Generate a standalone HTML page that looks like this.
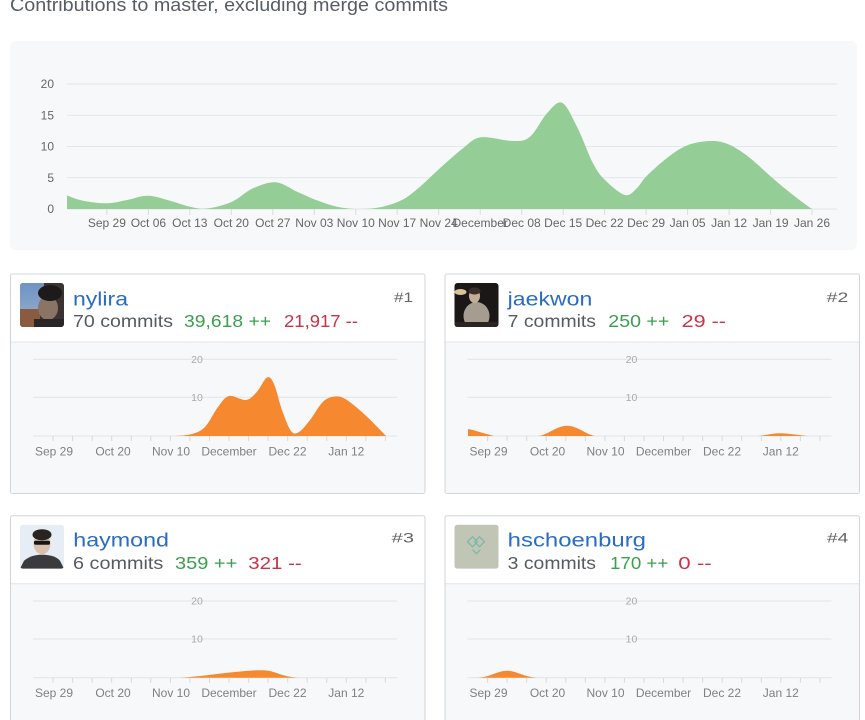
<!DOCTYPE html>
<html>
<head>
<meta charset="utf-8">
<style>
  html, body { margin: 0; padding: 0; background: #ffffff; }
  svg { display: block; }
</style>
</head>
<body>
<svg width="865" height="720" viewBox="0 0 865 720" xmlns="http://www.w3.org/2000/svg" font-family="'Liberation Sans', Arial, sans-serif">
  <defs>
    <linearGradient id="sky" x1="0" y1="0" x2="0" y2="1">
      <stop offset="0" stop-color="#6f93c6"/>
      <stop offset="1" stop-color="#8aa6c8"/>
    </linearGradient>
    <clipPath id="avclip"><rect x="20" y="283" width="44" height="44" rx="3"/></clipPath>
  </defs>

  <!-- Title -->
  <text x="10" y="11" font-size="18" fill="#575d64" textLength="438" lengthAdjust="spacingAndGlyphs">Contributions to master, excluding merge commits</text>

  <!-- Main chart box -->
  <rect x="10" y="41" width="847" height="209" rx="6" fill="#f6f8fa"/>

  <!-- gridlines -->
  <g stroke="#e3e6ea" stroke-width="1">
    <line x1="67" y1="84" x2="837" y2="84"/>
    <line x1="67" y1="115.25" x2="837" y2="115.25"/>
    <line x1="67" y1="146.5" x2="837" y2="146.5"/>
    <line x1="67" y1="177.75" x2="837" y2="177.75"/>
    <line x1="67" y1="209" x2="837" y2="209"/>
  </g>
  <g font-size="12" fill="#666" text-anchor="end">
    <text x="54" y="88">20</text>
    <text x="54" y="119.5">15</text>
    <text x="54" y="150.5">10</text>
    <text x="54" y="182">5</text>
    <text x="54" y="213">0</text>
  </g>

  <!-- main area -->
  <path fill="#94cd95" d="M67,209 L67,195.5 C69.7,196.4 76.3,199.4 83,200.7 S99.7,203.4 107,203.3 S120.2,201.3 127,200 S140.8,195.6 148,195.7 S163,198.9 170,200.7 S183.8,205.4 190,206.7 S200,209.3 207,208.5 S224.3,205.1 232,201.7 S245.7,191.5 253,188.3 S268.7,181.7 276,182.3 S290.3,188.8 297,191.7 S309.3,197.5 316,200 S330,205.2 337,206.7 S350.8,208.9 358,209 S372.7,208.8 380,207.3 S395.3,203.4 402,200 S414,191.7 420,186.7 S430.8,176.4 438,170 S455.8,153.8 463,148.3 S472.7,138.5 481,137.3 S504.8,141.1 513,141 S524.3,141.3 530,136.7 S541.7,119 547,113.3 S557,100.6 562,102.8 S571.8,116.6 577,126.7 S588.3,154.4 593,163.3 S599.7,174.7 605,180 S619.7,193.7 625,195 S633.5,191.1 637,188 S641,181.7 646,176.7 S660,163.3 667,158 S680.5,147.8 688,145 S705,141 712,141 S723.7,142.2 730,145 S743.2,152.7 750,158 S763.8,170.5 771,176.7 S786.2,189.6 793,195 S808.8,206.7 812,209 Z"/>

  <!-- main ticks -->
  <g stroke="#dadde1" stroke-width="1">
    <line x1="106.9" y1="209" x2="106.9" y2="215"/>
    <line x1="148.4" y1="209" x2="148.4" y2="215"/>
    <line x1="189.8" y1="209" x2="189.8" y2="215"/>
    <line x1="231.3" y1="209" x2="231.3" y2="215"/>
    <line x1="272.8" y1="209" x2="272.8" y2="215"/>
    <line x1="314.3" y1="209" x2="314.3" y2="215"/>
    <line x1="355.8" y1="209" x2="355.8" y2="215"/>
    <line x1="397.2" y1="209" x2="397.2" y2="215"/>
    <line x1="438.7" y1="209" x2="438.7" y2="215"/>
    <line x1="480.2" y1="209" x2="480.2" y2="215"/>
    <line x1="521.7" y1="209" x2="521.7" y2="215"/>
    <line x1="563.2" y1="209" x2="563.2" y2="215"/>
    <line x1="604.6" y1="209" x2="604.6" y2="215"/>
    <line x1="646.1" y1="209" x2="646.1" y2="215"/>
    <line x1="687.6" y1="209" x2="687.6" y2="215"/>
    <line x1="729.1" y1="209" x2="729.1" y2="215"/>
    <line x1="770.6" y1="209" x2="770.6" y2="215"/>
    <line x1="812" y1="209" x2="812" y2="215"/>
  </g>
  <g font-size="12" fill="#666" text-anchor="middle">
    <text x="106.9" y="227">Sep 29</text>
    <text x="148.4" y="227">Oct 06</text>
    <text x="189.8" y="227">Oct 13</text>
    <text x="231.3" y="227">Oct 20</text>
    <text x="272.8" y="227">Oct 27</text>
    <text x="314.3" y="227">Nov 03</text>
    <text x="355.8" y="227">Nov 10</text>
    <text x="397.2" y="227">Nov 17</text>
    <text x="438.7" y="227">Nov 24</text>
    <text x="480.2" y="227">December</text>
    <text x="521.7" y="227">Dec 08</text>
    <text x="563.2" y="227">Dec 15</text>
    <text x="604.6" y="227">Dec 22</text>
    <text x="646.1" y="227">Dec 29</text>
    <text x="687.6" y="227">Jan 05</text>
    <text x="729.1" y="227">Jan 12</text>
    <text x="770.6" y="227">Jan 19</text>
    <text x="812" y="227">Jan 26</text>
  </g>

  <!-- ============ CARD 1 : nylira ============ -->
  <g>
    <rect x="10.5" y="274" width="414.5" height="219.5" rx="2" fill="#ffffff" stroke="#d1d5da"/>
    <rect x="11" y="342" width="413.5" height="151" fill="#f6f8fa"/>
    <line x1="11" y1="342" x2="424.5" y2="342" stroke="#e1e4e8"/>
    <!-- avatar -->
    <g clip-path="url(#avclip)">
      <rect x="20" y="283" width="44" height="44" fill="#3a3331"/>
      <rect x="20" y="283" width="24" height="28" fill="url(#sky)"/>
      <rect x="20" y="309" width="20" height="18" fill="#8a5b3e"/>
      <ellipse cx="48" cy="308" rx="10" ry="12" fill="#8a7466"/>
      <ellipse cx="50" cy="293" rx="12" ry="8" fill="#1d1a1b"/>
      <rect x="34" y="319" width="30" height="8" fill="#2a2627"/>
    </g>
    <text x="73" y="305.5" font-size="19" fill="#2a6cc4" textLength="55" lengthAdjust="spacingAndGlyphs">nylira</text>
    <text x="73" y="327" font-size="17.5" fill="#555b61" textLength="100" lengthAdjust="spacingAndGlyphs">70 commits</text>
    <text x="184" y="327" font-size="17.5" fill="#3aa04d" textLength="87" lengthAdjust="spacingAndGlyphs">39,618 ++</text>
    <text x="284" y="327" font-size="17.5" fill="#c93248" textLength="74" lengthAdjust="spacingAndGlyphs">21,917 --</text>
    <text x="394" y="302" font-size="14" fill="#666" textLength="19" lengthAdjust="spacingAndGlyphs">#1</text>
    <!-- chart -->
    <g stroke="#e1e4e8" stroke-width="1">
      <line x1="33" y1="359.3" x2="397" y2="359.3"/>
      <line x1="33" y1="397.3" x2="397" y2="397.3"/>
      <line x1="33" y1="436" x2="397" y2="436"/>
    </g>
    <g font-size="10.5" fill="#aaa" text-anchor="middle">
      <text x="197" y="363">20</text>
      <text x="197" y="401">10</text>
    </g>
    <path fill="#f6892f" d="M176,436 C178.7,435.7 187.2,435.5 192,434 S200.7,431.5 205,427 S214,412.2 218,407 S224.3,397.2 229,396 S241.3,400.7 246,400 S253.5,395.5 257,391.7 S264.2,378.8 267,377.5 S271.5,378.6 274,384 S279.2,402.2 282,410 S288.2,427.3 291,431 S295.8,433.8 299,432 S306,425 310,420 S318.8,405.6 323,401.7 S331,396.8 335,396.5 S341.7,396.6 347,400 S360.5,410.7 367,416.7 S382.8,432.8 386,436 Z"/>
    <g stroke="#d6d9dd" stroke-width="1">
      <line x1="53.1" y1="436" x2="53.1" y2="441"/><line x1="72.6" y1="436" x2="72.6" y2="441"/><line x1="92.2" y1="436" x2="92.2" y2="441"/>
      <line x1="111.7" y1="436" x2="111.7" y2="441"/><line x1="131.3" y1="436" x2="131.3" y2="441"/><line x1="150.8" y1="436" x2="150.8" y2="441"/>
      <line x1="170.4" y1="436" x2="170.4" y2="441"/><line x1="189.9" y1="436" x2="189.9" y2="441"/><line x1="209.5" y1="436" x2="209.5" y2="441"/>
      <line x1="229" y1="436" x2="229" y2="441"/><line x1="248.6" y1="436" x2="248.6" y2="441"/><line x1="268.1" y1="436" x2="268.1" y2="441"/>
      <line x1="287.7" y1="436" x2="287.7" y2="441"/><line x1="307.2" y1="436" x2="307.2" y2="441"/><line x1="326.8" y1="436" x2="326.8" y2="441"/>
      <line x1="346.3" y1="436" x2="346.3" y2="441"/><line x1="365.9" y1="436" x2="365.9" y2="441"/><line x1="385.4" y1="436" x2="385.4" y2="441"/>
    </g>
    <g font-size="12" fill="#808080" text-anchor="middle">
      <text x="54" y="455.5">Sep 29</text>
      <text x="113" y="455.5">Oct 20</text>
      <text x="171" y="455.5">Nov 10</text>
      <text x="229" y="455.5">December</text>
      <text x="287.5" y="455.5">Dec 22</text>
      <text x="346.3" y="455.5">Jan 12</text>
    </g>
  </g>

  <!-- ============ CARD 2 : jaekwon ============ -->
  <g transform="translate(434.5,0)">
    <rect x="10.5" y="274" width="414.5" height="219.5" rx="2" fill="#ffffff" stroke="#d1d5da"/>
    <rect x="11" y="342" width="413.5" height="151" fill="#f6f8fa"/>
    <line x1="11" y1="342" x2="424.5" y2="342" stroke="#e1e4e8"/>
    <g clip-path="url(#avclip)">
      <rect x="20" y="283" width="44" height="44" fill="#1b1716"/>
      <ellipse cx="26" cy="292" rx="6" ry="3" fill="#d9c49a"/>
      <ellipse cx="42" cy="316" rx="13" ry="14" fill="#a69d90"/>
      <ellipse cx="40" cy="296" rx="5.5" ry="7" fill="#c3ae98"/>
      <ellipse cx="40" cy="291" rx="6" ry="3.5" fill="#3a2e28"/>
      <rect x="20" y="322" width="44" height="5" fill="#2a2321"/>
    </g>
    <text x="73.2" y="305.5" font-size="19" fill="#2a6cc4" textLength="84.6" lengthAdjust="spacingAndGlyphs">jaekwon</text>
    <text x="73.2" y="327" font-size="17.5" fill="#555b61" textLength="88.3" lengthAdjust="spacingAndGlyphs">7 commits</text>
    <text x="173.8" y="327" font-size="17.5" fill="#3aa04d" textLength="61" lengthAdjust="spacingAndGlyphs">250 ++</text>
    <text x="247.2" y="327" font-size="17.5" fill="#c93248" textLength="44.3" lengthAdjust="spacingAndGlyphs">29 --</text>
    <text x="392.2" y="302" font-size="14" fill="#666" textLength="21.6" lengthAdjust="spacingAndGlyphs">#2</text>
    <g stroke="#e1e4e8" stroke-width="1">
      <line x1="33" y1="359.3" x2="397" y2="359.3"/>
      <line x1="33" y1="397.3" x2="397" y2="397.3"/>
      <line x1="33" y1="436" x2="397" y2="436"/>
    </g>
    <g font-size="10.5" fill="#aaa" text-anchor="middle">
      <text x="197" y="363">20</text>
      <text x="197" y="401">10</text>
    </g>
    <g fill="#f6892f">
      <path d="M33.5,436 L33.5,429 C39.5,430 49.5,433.5 59.5,436 Z"/>
      <path d="M103.5,436 C113.5,435 121.5,426 132.2,425.7 C142.5,425.5 150.5,434 160.5,436 Z"/>
      <path d="M323.5,436 C333.5,435 337.5,433.3 345.5,433.3 C353.5,433.3 361.5,435 373.5,436 Z"/>
    </g>
    <g stroke="#d6d9dd" stroke-width="1">
      <line x1="53.1" y1="436" x2="53.1" y2="441"/><line x1="72.6" y1="436" x2="72.6" y2="441"/><line x1="92.2" y1="436" x2="92.2" y2="441"/>
      <line x1="111.7" y1="436" x2="111.7" y2="441"/><line x1="131.3" y1="436" x2="131.3" y2="441"/><line x1="150.8" y1="436" x2="150.8" y2="441"/>
      <line x1="170.4" y1="436" x2="170.4" y2="441"/><line x1="189.9" y1="436" x2="189.9" y2="441"/><line x1="209.5" y1="436" x2="209.5" y2="441"/>
      <line x1="229" y1="436" x2="229" y2="441"/><line x1="248.6" y1="436" x2="248.6" y2="441"/><line x1="268.1" y1="436" x2="268.1" y2="441"/>
      <line x1="287.7" y1="436" x2="287.7" y2="441"/><line x1="307.2" y1="436" x2="307.2" y2="441"/><line x1="326.8" y1="436" x2="326.8" y2="441"/>
      <line x1="346.3" y1="436" x2="346.3" y2="441"/><line x1="365.9" y1="436" x2="365.9" y2="441"/><line x1="385.4" y1="436" x2="385.4" y2="441"/>
    </g>
    <g font-size="12" fill="#808080" text-anchor="middle">
      <text x="54" y="455.5">Sep 29</text>
      <text x="113" y="455.5">Oct 20</text>
      <text x="171" y="455.5">Nov 10</text>
      <text x="229" y="455.5">December</text>
      <text x="287.5" y="455.5">Dec 22</text>
      <text x="346.3" y="455.5">Jan 12</text>
    </g>
  </g>

  <!-- ============ CARD 3 : haymond ============ -->
  <g transform="translate(0,241.7)">
    <rect x="10.5" y="274" width="414.5" height="240" rx="2" fill="#ffffff" stroke="#d1d5da"/>
    <rect x="11" y="342" width="413.5" height="170" fill="#f6f8fa"/>
    <line x1="11" y1="342" x2="424.5" y2="342" stroke="#e1e4e8"/>
    <g clip-path="url(#avclip)">
      <rect x="20" y="283" width="44" height="44" fill="#e7edf4"/>
      <path d="M20,327 L24,319 C30,314 36,313 42,313 C48,313 56,314 60,319 L64,327 Z" fill="#3b3b3e"/>
      <ellipse cx="42" cy="302" rx="8.5" ry="10.5" fill="#d9c1ad"/>
      <ellipse cx="42" cy="293" rx="9.5" ry="5.5" fill="#2a2421"/>
      <rect x="34" y="299" width="16" height="4" rx="1.5" fill="#151515"/>
    </g>
    <text x="73.3" y="305" font-size="19" fill="#2a6cc4" textLength="95.7" lengthAdjust="spacingAndGlyphs">haymond</text>
    <text x="73" y="327.3" font-size="17.5" fill="#555b61" textLength="90.3" lengthAdjust="spacingAndGlyphs">6 commits</text>
    <text x="175" y="327.3" font-size="17.5" fill="#3aa04d" textLength="62.3" lengthAdjust="spacingAndGlyphs">359 ++</text>
    <text x="248.3" y="327.3" font-size="17.5" fill="#c93248" textLength="53.4" lengthAdjust="spacingAndGlyphs">321 --</text>
    <text x="391.7" y="301" font-size="14" fill="#666" textLength="22.3" lengthAdjust="spacingAndGlyphs">#3</text>
    <g stroke="#e1e4e8" stroke-width="1">
      <line x1="33" y1="359.3" x2="397" y2="359.3"/>
      <line x1="33" y1="397.3" x2="397" y2="397.3"/>
      <line x1="33" y1="436" x2="397" y2="436"/>
    </g>
    <g font-size="10.5" fill="#aaa" text-anchor="middle">
      <text x="197" y="363">20</text>
      <text x="197" y="401">10</text>
    </g>
    <path fill="#f6892f" d="M180,436 C195,435.3 215,432.3 235,430.3 C250,428.8 262,427.8 270,429.3 C278,431.3 285,435.3 298,436 Z"/>
    <g stroke="#d6d9dd" stroke-width="1">
      <line x1="53.1" y1="436" x2="53.1" y2="441"/><line x1="72.6" y1="436" x2="72.6" y2="441"/><line x1="92.2" y1="436" x2="92.2" y2="441"/>
      <line x1="111.7" y1="436" x2="111.7" y2="441"/><line x1="131.3" y1="436" x2="131.3" y2="441"/><line x1="150.8" y1="436" x2="150.8" y2="441"/>
      <line x1="170.4" y1="436" x2="170.4" y2="441"/><line x1="189.9" y1="436" x2="189.9" y2="441"/><line x1="209.5" y1="436" x2="209.5" y2="441"/>
      <line x1="229" y1="436" x2="229" y2="441"/><line x1="248.6" y1="436" x2="248.6" y2="441"/><line x1="268.1" y1="436" x2="268.1" y2="441"/>
      <line x1="287.7" y1="436" x2="287.7" y2="441"/><line x1="307.2" y1="436" x2="307.2" y2="441"/><line x1="326.8" y1="436" x2="326.8" y2="441"/>
      <line x1="346.3" y1="436" x2="346.3" y2="441"/><line x1="365.9" y1="436" x2="365.9" y2="441"/><line x1="385.4" y1="436" x2="385.4" y2="441"/>
    </g>
    <g font-size="12" fill="#808080" text-anchor="middle">
      <text x="54" y="455.5">Sep 29</text>
      <text x="113" y="455.5">Oct 20</text>
      <text x="171" y="455.5">Nov 10</text>
      <text x="229" y="455.5">December</text>
      <text x="287.5" y="455.5">Dec 22</text>
      <text x="346.3" y="455.5">Jan 12</text>
    </g>
  </g>

  <!-- ============ CARD 4 : hschoenburg ============ -->
  <g transform="translate(434.5,241.7)">
    <rect x="10.5" y="274" width="414.5" height="240" rx="2" fill="#ffffff" stroke="#d1d5da"/>
    <rect x="11" y="342" width="413.5" height="170" fill="#f6f8fa"/>
    <line x1="11" y1="342" x2="424.5" y2="342" stroke="#e1e4e8"/>
    <g clip-path="url(#avclip)">
      <rect x="20" y="283" width="44" height="44" fill="#c6cabc"/>
      <rect x="20" y="283" width="44" height="44" fill="#b9bfae" opacity="0.5"/>
      <g fill="none" stroke="#7fb8a8" stroke-width="1.3">
        <path d="M33,300 L38,295 L43,300 L38,305 Z"/>
        <path d="M40,300 L45,295 L50,300 L45,305 Z"/>
        <path d="M38,308 L42,312 L46,308"/>
      </g>
    </g>
    <text x="73.2" y="305" font-size="19" fill="#2a6cc4" textLength="138.3" lengthAdjust="spacingAndGlyphs">hschoenburg</text>
    <text x="73.2" y="327.3" font-size="17.5" fill="#555b61" textLength="88.3" lengthAdjust="spacingAndGlyphs">3 commits</text>
    <text x="175.5" y="327.3" font-size="17.5" fill="#3aa04d" textLength="58.3" lengthAdjust="spacingAndGlyphs">170 ++</text>
    <text x="243.8" y="327.3" font-size="17.5" fill="#c93248" textLength="33.4" lengthAdjust="spacingAndGlyphs">0 --</text>
    <text x="392.5" y="301" font-size="14" fill="#666" textLength="21.3" lengthAdjust="spacingAndGlyphs">#4</text>
    <g stroke="#e1e4e8" stroke-width="1">
      <line x1="33" y1="359.3" x2="397" y2="359.3"/>
      <line x1="33" y1="397.3" x2="397" y2="397.3"/>
      <line x1="33" y1="436" x2="397" y2="436"/>
    </g>
    <g font-size="10.5" fill="#aaa" text-anchor="middle">
      <text x="197" y="363">20</text>
      <text x="197" y="401">10</text>
    </g>
    <path fill="#f6892f" d="M43.5,436 C55.5,435.3 63.5,429 72.5,429 C81.5,429 89.5,435.3 102.5,436 Z"/>
    <g stroke="#d6d9dd" stroke-width="1">
      <line x1="53.1" y1="436" x2="53.1" y2="441"/><line x1="72.6" y1="436" x2="72.6" y2="441"/><line x1="92.2" y1="436" x2="92.2" y2="441"/>
      <line x1="111.7" y1="436" x2="111.7" y2="441"/><line x1="131.3" y1="436" x2="131.3" y2="441"/><line x1="150.8" y1="436" x2="150.8" y2="441"/>
      <line x1="170.4" y1="436" x2="170.4" y2="441"/><line x1="189.9" y1="436" x2="189.9" y2="441"/><line x1="209.5" y1="436" x2="209.5" y2="441"/>
      <line x1="229" y1="436" x2="229" y2="441"/><line x1="248.6" y1="436" x2="248.6" y2="441"/><line x1="268.1" y1="436" x2="268.1" y2="441"/>
      <line x1="287.7" y1="436" x2="287.7" y2="441"/><line x1="307.2" y1="436" x2="307.2" y2="441"/><line x1="326.8" y1="436" x2="326.8" y2="441"/>
      <line x1="346.3" y1="436" x2="346.3" y2="441"/><line x1="365.9" y1="436" x2="365.9" y2="441"/><line x1="385.4" y1="436" x2="385.4" y2="441"/>
    </g>
    <g font-size="12" fill="#808080" text-anchor="middle">
      <text x="54" y="455.5">Sep 29</text>
      <text x="113" y="455.5">Oct 20</text>
      <text x="171" y="455.5">Nov 10</text>
      <text x="229" y="455.5">December</text>
      <text x="287.5" y="455.5">Dec 22</text>
      <text x="346.3" y="455.5">Jan 12</text>
    </g>
  </g>
</svg>
</body>
</html>
